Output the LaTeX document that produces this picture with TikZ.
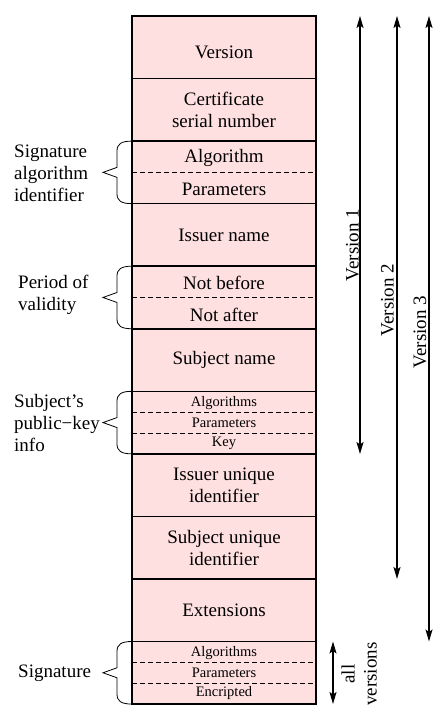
\documentclass[tikz,border=0pt]{standalone}
\usepackage{fontspec}
\setmainfont{Liberation Serif}
\usetikzlibrary{arrows.meta,calc}
\definecolor{pinkfill}{RGB}{255,224,224}
\newcommand\mainsize{\fontsize{19}{22}\selectfont}
\newcommand\smallsize{\fontsize{14.5}{17}\selectfont}
\tikzset{
  field/.style={draw, line width=1.5pt, fill=pinkfill, minimum width=184pt,
    minimum height=62.55pt, inner sep=0pt, outer sep=0pt, align=center,
    font=\mainsize, anchor=north},
  maintext/.style={font=\mainsize, inner sep=0pt},
  smalltext/.style={font=\smallsize, inner sep=0pt},
  sublabel/.style={font=\mainsize, align=left, anchor=west, inner sep=0pt},
  divider/.style={line width=0.8pt, dash pattern=on 5pt off 3pt},
  bracestyle/.style={line width=0.8pt},
  varrow/.style={line width=1.3pt,
    {Stealth[length=12pt,width=7pt,inset=2.5pt]}-{Stealth[length=12pt,width=7pt,inset=2.5pt]}},
  vlabel/.style={font=\mainsize, rotate=90, inner sep=0pt, align=center}
}
\newcommand\fieldbrace[1]{%
  \draw[bracestyle] (#1.north west)
    .. controls ($(#1.north west)+(-11,0)$) and ($(#1.north west)+(-15,3)$) .. ($(#1.north west)+(-15,10)$)
    -- ($(#1.west)+(-15,-5)$) -- ($(#1.west)+(-29,0)$) -- ($(#1.west)+(-15,5)$)
    -- ($(#1.south west)+(-15,-10)$)
    .. controls ($(#1.south west)+(-15,-3)$) and ($(#1.south west)+(-11,0)$) .. (#1.south west);}
\begin{document}
\begin{tikzpicture}[x=1pt,y=-1pt]
\useasboundingbox (0,0) rectangle (445,718);
% fields
\node[field] (ver) at (224,16) {};
\node[field] (ser) at (224,78.55) {Certificate\\serial number};
\node[field] (sai) at (224,141.1) {};
\node[field] (iss) at (224,203.65) {Issuer name};
\node[field] (val) at (224,266.2) {};
\node[field] (sub) at (224,328.75) {Subject name};
\node[field] (pki) at (224,391.3) {};
\node[field] (iuid) at (224,453.85) {Issuer unique\\identifier};
\node[field] (suid) at (224,516.4) {Subject unique\\identifier};
\node[field] (ext) at (224,578.95) {Extensions};
\node[field] (sig) at (224,641.5) {};
% dividers
\draw[divider] (sai.west) -- (sai.east);
\draw[divider] (val.west) -- (val.east);
\draw[divider] ($(pki.north west)!0.3333!(pki.south west)$) -- ($(pki.north east)!0.3333!(pki.south east)$);
\draw[divider] ($(pki.north west)!0.6667!(pki.south west)$) -- ($(pki.north east)!0.6667!(pki.south east)$);
\draw[divider] ($(sig.north west)!0.3333!(sig.south west)$) -- ($(sig.north east)!0.3333!(sig.south east)$);
\draw[divider] ($(sig.north west)!0.6667!(sig.south west)$) -- ($(sig.north east)!0.6667!(sig.south east)$);
% sub texts
\node[maintext] (vert) at (224,52) {Version};
\node[maintext] (alg) at (224,158) {Algorithm};
\node[maintext] (par) at (224,189) {Parameters};
\node[maintext] (nbf) at (224,283) {Not before};
\node[maintext] (naf) at (224,315) {Not after};
\node[smalltext] (pka) at (224,403) {Algorithms};
\node[smalltext] (pkp) at (224,423) {Parameters};
\node[smalltext] (pkk) at (224,443) {Key};
\node[smalltext] (sga) at (224,653) {Algorithms};
\node[smalltext] (sgp) at (224,673) {Parameters};
\node[smalltext] (sge) at (224,693) {Encripted};
% braces
\fieldbrace{sai}
\fieldbrace{val}
\fieldbrace{pki}
\fieldbrace{sig}
% left labels
\node[sublabel] (lsai) at (14,173) {Signature\\algorithm\\identifier};
\node[sublabel] (lval) at (18,295) {Period of\\validity};
\node[sublabel] (lpki) at (14,423) {Subject’s\\public−key\\info};
\node[sublabel] (lsig) at (18,673) {Signature};
% version arrows
\coordinate (v1a) at (360,16);
\coordinate (v1b) at (360,454);
\coordinate (v2a) at (397,16);
\coordinate (v2b) at (397,579);
\coordinate (v3a) at (429,16);
\coordinate (v3b) at (429,641.5);
\coordinate (ava) at (333,641.5);
\coordinate (avb) at (333,704);
\draw[varrow] (v1a) -- (v1b);
\draw[varrow] (v2a) -- (v2b);
\draw[varrow] (v3a) -- (v3b);
\draw[varrow] (ava) -- (avb);
\node[vlabel] (lv1) at (352.5,245) {Version 1};
\node[vlabel] (lv2) at (387.5,300) {Version 2};
\node[vlabel] (lv3) at (420,332) {Version 3};
\node[vlabel] (lav) at (359,674) {all\\versions};
\end{tikzpicture}
\end{document}
